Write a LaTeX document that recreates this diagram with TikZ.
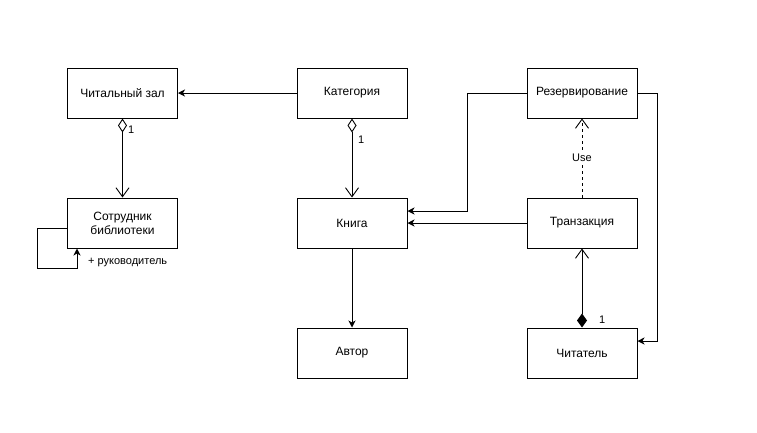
\documentclass[tikz,border=0pt]{standalone}
\usepackage{fontspec}
\setmainfont{Liberation Sans}
\usetikzlibrary{arrows.meta}
\begin{document}
\begin{tikzpicture}[x=1pt,y=-1pt,
  cls/.style={draw, line width=1pt, minimum width=110pt, minimum height=50pt, align=center, inner sep=0pt, font=\fontsize{12pt}{14pt}\selectfont},
  conn/.style={line width=1pt},
  tip/.style={-{Stealth[length=7pt,width=7pt,inset=2pt]}},
  open/.style={-{Straight Barb[length=9pt,width=13pt,line width=0.9pt]}},
  lbl/.style={font=\fontsize{11pt}{13pt}\selectfont, inner sep=1pt}
]
\useasboundingbox (0,0) rectangle (757,432);
\node[cls] (zal) at (122.5,93) {Читальный зал};
\node[cls] (kat) at (352,93) {Категория};
\node[cls] (rez) at (582,93) {Резервирование};
\node[cls] (sot) at (122.5,223) {Сотрудник\\библиотеки};
\node[cls] (kni) at (352,223) {Книга};
\node[cls] (tra) at (582,223) {Транзакция};
\node[cls] (avt) at (352,353) {Автор};
\node[cls] (chi) at (582,353) {Читатель};

\coordinate (lp1) at (37,228);
\coordinate (lp2) at (37,268);
\coordinate (lp3) at (77,268);
\coordinate (r1) at (467,93);
\coordinate (r2) at (467,211);
\coordinate (q1) at (657,93);
\coordinate (q2) at (657,341);

\draw[conn,tip] (kat.west) -- (zal.east);
\draw[conn,{Diamond[open,length=14pt,width=9pt,line width=0.9pt]}-{Straight Barb[length=9pt,width=13pt,line width=0.9pt]}] (zal.south) -- (sot.north);
\node[lbl,anchor=west] (one1) at (127,130) {1};
\draw[conn,tip] (sot.west |- lp1) -- (lp1) -- (lp2) -- (lp3) -- (lp3 |- sot.south);
\node[lbl,anchor=west] (ruk) at (87,262) {+ руководитель};
\draw[conn,{Diamond[open,length=14pt,width=9pt,line width=0.9pt]}-{Straight Barb[length=9pt,width=13pt,line width=0.9pt]}] (kat.south) -- (kni.north);
\node[lbl,anchor=west] (one2) at (357,140) {1};
\draw[conn,tip] (rez.west) -- (r1) -- (r2) -- (kni.east |- r2);
\draw[conn,tip] (tra.west) -- (kni.east);
\draw[conn,dashed,open] (tra.north) -- (rez.south);
\node[lbl,fill=white] (use) at (582,158) {Use};
\draw[conn,{Diamond[length=14pt,width=10pt]}-{Straight Barb[length=9pt,width=13pt,line width=0.9pt]}] (chi.north) -- (tra.south);
\node[lbl,anchor=west] (one3) at (598,320) {1};
\draw[conn,tip] (rez.east) -- (q1) -- (q2) -- (chi.east |- q2);
\draw[conn,tip] (kni.south) -- (avt.north);
\end{tikzpicture}
\end{document}
